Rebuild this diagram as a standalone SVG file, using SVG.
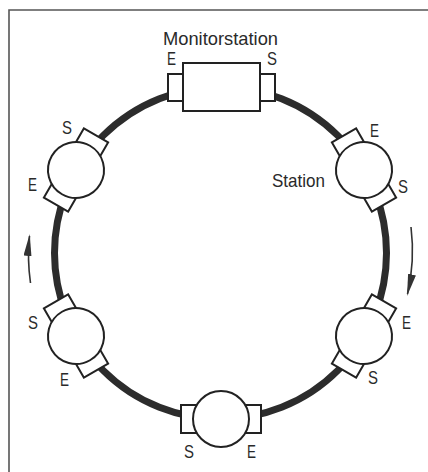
<svg xmlns="http://www.w3.org/2000/svg" width="428" height="472" viewBox="0 0 428 472">
<style>
.frame{fill:none;stroke:#555;stroke-width:1.6}
.ring{fill:none;stroke:#2c2c2c;stroke-width:7}
.st{fill:#fff;stroke:#222;stroke-width:2}
.lbl{font-family:"Liberation Sans",Arial,sans-serif;font-size:19px;fill:#2a2a2a}
.arr{fill:none;stroke:#333;stroke-width:1.6}
</style>
<defs>
<marker id="ah" viewBox="0 0 22 8" refX="20" refY="4" markerWidth="22" markerHeight="8" markerUnits="userSpaceOnUse" orient="auto">
<path d="M0,0 L22,4 L0,8 Z" fill="#333"/>
</marker>
</defs>
<rect width="428" height="472" fill="#fff"/>
<path class="frame" d="M9,472 V10 H428"/>
<g id="connectors">
<circle class="ring" cx="220.5" cy="253" r="166"/>
<path class="arr" d="M30.5,283 A192,192 0 0 1 29.5,236" marker-end="url(#ah)"/>
<path class="arr" d="M411,227 A193,193 0 0 1 407.5,294" marker-end="url(#ah)"/>
</g>
<g id="monitorstation">
<rect class="st" x="168" y="74" width="16" height="27"/>
<rect class="st" x="259" y="74" width="16" height="27"/>
<rect class="st" x="183" y="63" width="77" height="48"/>
<text class="lbl" x="163" y="45" textLength="115" lengthAdjust="spacingAndGlyphs">Monitorstation</text>
<text class="lbl" x="167" y="65" textLength="9" lengthAdjust="spacingAndGlyphs">E</text>
<text class="lbl" x="267" y="65" textLength="10" lengthAdjust="spacingAndGlyphs">S</text>
</g>
<g id="station-upper-right" transform="translate(364,170) rotate(60)">
<rect class="st" x="-40" y="-14" width="80" height="28"/>
<circle class="st" r="28"/>
</g>
<g id="station-upper-right-labels">
<text class="lbl" x="370" y="137" textLength="9" lengthAdjust="spacingAndGlyphs">E</text>
<text class="lbl" x="398" y="193" textLength="10" lengthAdjust="spacingAndGlyphs">S</text>
<text class="lbl" x="272" y="187" textLength="53" lengthAdjust="spacingAndGlyphs">Station</text>
</g>
<g id="station-lower-right" transform="translate(364,336) rotate(120)">
<rect class="st" x="-40" y="-14" width="80" height="28"/>
<circle class="st" r="28"/>
</g>
<g id="station-lower-right-labels">
<text class="lbl" x="402" y="329" textLength="9" lengthAdjust="spacingAndGlyphs">E</text>
<text class="lbl" x="368" y="384" textLength="10" lengthAdjust="spacingAndGlyphs">S</text>
</g>
<g id="station-bottom" transform="translate(221,419)">
<rect class="st" x="-40" y="-14" width="80" height="28"/>
<circle class="st" r="28"/>
</g>
<g id="station-bottom-labels">
<text class="lbl" x="184" y="458" textLength="10" lengthAdjust="spacingAndGlyphs">S</text>
<text class="lbl" x="247" y="458" textLength="9" lengthAdjust="spacingAndGlyphs">E</text>
</g>
<g id="station-lower-left" transform="translate(76,336) rotate(60)">
<rect class="st" x="-40" y="-14" width="80" height="28"/>
<circle class="st" r="28"/>
</g>
<g id="station-lower-left-labels">
<text class="lbl" x="28" y="329" textLength="10" lengthAdjust="spacingAndGlyphs">S</text>
<text class="lbl" x="60" y="386" textLength="9" lengthAdjust="spacingAndGlyphs">E</text>
</g>
<g id="station-upper-left" transform="translate(76,170) rotate(120)">
<rect class="st" x="-40" y="-14" width="80" height="28"/>
<circle class="st" r="28"/>
</g>
<g id="station-upper-left-labels">
<text class="lbl" x="62" y="134" textLength="10" lengthAdjust="spacingAndGlyphs">S</text>
<text class="lbl" x="28" y="191" textLength="9" lengthAdjust="spacingAndGlyphs">E</text>
</g>
</svg>
